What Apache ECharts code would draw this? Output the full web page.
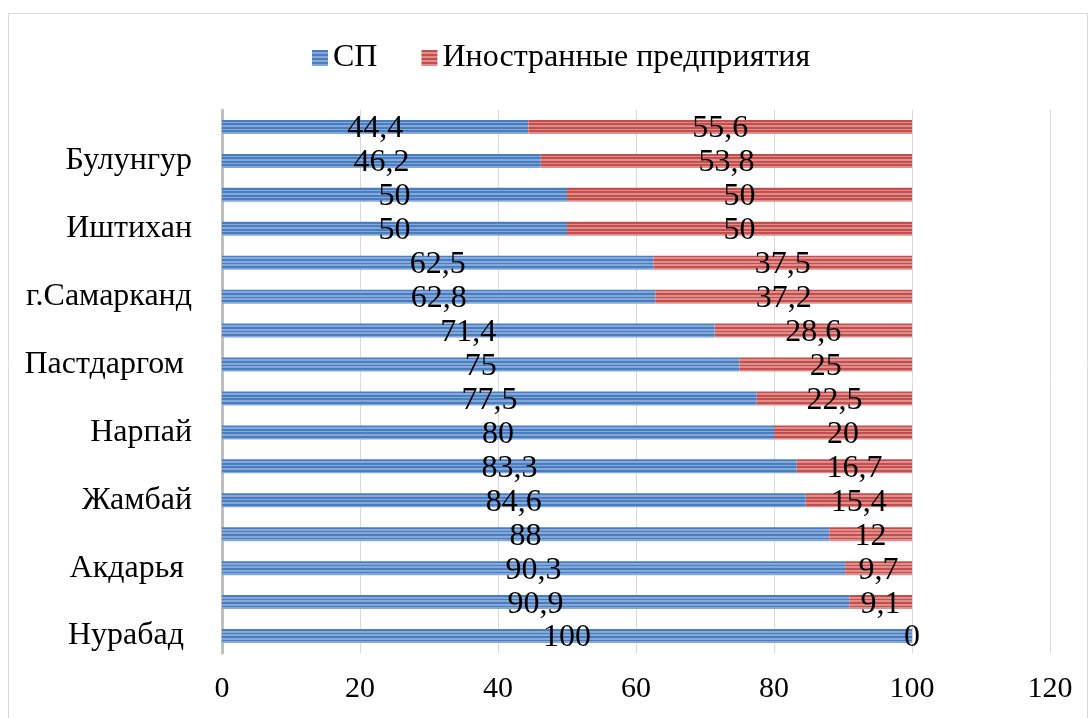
<!DOCTYPE html>
<html><head><meta charset="utf-8">
<script src="https://cdn.jsdelivr.net/npm/echarts@6/dist/echarts.min.js"></script>
<style>html,body{margin:0;padding:0;background:#fff}#c{width:1089px;height:718px}</style>
</head><body><div id="c"></div>
<script>
const categories = ['Нурабад ', 'Пахтачи', 'Акдарья ', 'Тайлак', 'Жамбай', 'Ургут', 'Нарпай', 'Пайарык', 'Пастдаргом ', 'Каттакурган', 'г.Самарканд', 'Самарканд', 'Иштихан', 'Кошрабад', 'Булунгур', 'г.Каттакурган'];
const spValues = [100, 90.9, 90.3, 88, 84.6, 83.3, 80, 77.5, 75, 71.4, 62.8, 62.5, 50, 50, 46.2, 44.4];
const foreignValues = [0, 9.1, 9.7, 12, 15.4, 16.7, 20, 22.5, 25, 28.6, 37.2, 37.5, 50, 50, 53.8, 55.6];
const seriesNames = ['СП', 'Иностранные предприятия'];

function stripes(dark, light) {
  const stops = [];
  const n = 4;
  for (let i = 0; i < n; i++) {
    const a = i / n, b = (i + 0.5) / n, c = (i + 1) / n;
    stops.push({offset: a, color: dark}, {offset: b, color: dark}, {offset: b, color: light}, {offset: c, color: light});
  }
  return new echarts.graphic.LinearGradient(0, 0, 0, 1, stops);
}
const blue = stripes('#4a7dbf', '#84a8d8');
const red = stripes('#c24f4d', '#df8e8c');
const F = '"Liberation Serif", "Times New Roman", serif';

const chart = echarts.init(document.getElementById('c'));
chart.setOption({
  animation: false,
  textStyle: {fontFamily: F},
  graphic: [{type: 'rect', shape: {x: 8.5, y: 13.5, width: 1079, height: 720}, style: {fill: 'none', stroke: '#d9d9d9', lineWidth: 1}, silent: true}],
  legend: {
    top: 37, left: 307, itemWidth: 16, itemHeight: 16, itemGap: 44,
    icon: 'rect',
    textStyle: {fontFamily: F, fontSize: 32, color: '#000', padding: [0, 0, 0, 0]},
    data: [{name: seriesNames[0], itemStyle: {color: blue}}, {name: seriesNames[1], itemStyle: {color: red}}]
  },
  grid: {left: 222, right: 39, top: 110, bottom: 65},
  xAxis: {
    type: 'value', min: 0, max: 120, interval: 20,
    axisLine: {show: false}, axisTick: {show: false},
    splitLine: {lineStyle: {color: '#d9d9d9', width: 1}},
    axisLabel: {fontFamily: F, fontSize: 30, color: '#000', margin: 21}
  },
  yAxis: {
    type: 'category', data: categories,
    axisLine: {lineStyle: {color: '#bfbfbf', width: 3}}, axisTick: {show: false},
    axisLabel: {interval: 1, fontFamily: F, fontSize: 32, color: '#000', margin: 30}
  },
  series: [
    {name: seriesNames[0], type: 'bar', stack: 't', data: spValues, barWidth: 14,
     itemStyle: {color: blue},
     label: {show: true, position: 'inside', offset: [0, 2], fontFamily: F, fontSize: 32, color: '#000', formatter: p => String(p.value).replace('.', ',')}},
    {name: seriesNames[1], type: 'bar', stack: 't', data: foreignValues, barWidth: 14,
     itemStyle: {color: red},
     label: {show: true, position: 'inside', offset: [0, 2], fontFamily: F, fontSize: 32, color: '#000', formatter: p => String(p.value).replace('.', ',')}}
  ]
});
</script></body></html>
